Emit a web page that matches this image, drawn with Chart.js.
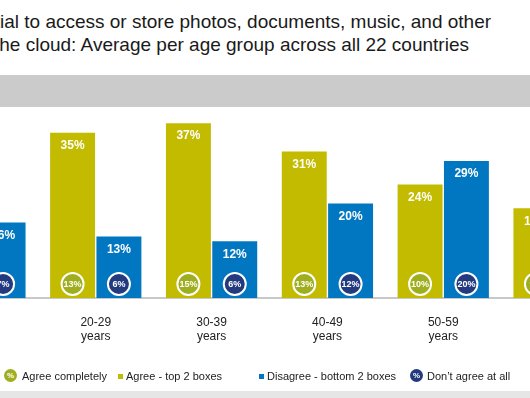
<!DOCTYPE html>
<html>
<head>
<meta charset="utf-8">
<script src="https://cdn.jsdelivr.net/npm/chart.js@4.4.1/dist/chart.umd.min.js"></script>
<style>
  html, body { margin: 0; padding: 0; }
  body { width: 530px; height: 398px; overflow: hidden; position: relative; background: #fff;
         font-family: Arial, "Liberation Sans", sans-serif; }
  .title { position: absolute; white-space: nowrap; font-size: 19px; line-height: 22.5px; color: #1a1a1a; }
  .band { position: absolute; left: 0; width: 530px; }
  #wrap { position: absolute; left: -78px; top: 0; width: 695px; height: 398px; }
  .legend { position: absolute; top: 368px; font-size: 11px; line-height: 16px; color: #222; white-space: nowrap; }
  .dot { position: absolute; width: 13px; height: 13px; border-radius: 50%; color: #fff;
         font-size: 8px; font-weight: bold; line-height: 13px; text-align: center; top: 369px; }
  .sq { position: absolute; width: 5px; height: 5px; top: 374px; }
</style>
</head>
<body>
<div class="title" style="left:-56px; top:11px;">essential to access or store photos, documents, music, and other</div>
<div class="title" style="left:-6px; top:33.5px;">the cloud: Average per age group across all 22 countries</div>
<div class="band" style="top:75px; height:32px; background:#cbcbcb;"></div>
<div class="band" style="top:391px; height:7px; background:#e6e6e6;"></div>

<div id="wrap"><canvas id="chart" width="695" height="398"></canvas></div>

<span class="dot" style="left:4px; background:#9fae1e;">%</span>
<span class="legend" style="left:22px;">Agree completely</span>
<span class="sq" style="left:118px; background:#c3bb00;"></span>
<span class="legend" style="left:126px;">Agree - top 2 boxes</span>
<span class="sq" style="left:259px; background:#0077c0;"></span>
<span class="legend" style="left:267px;">Disagree - bottom 2 boxes</span>
<span class="dot" style="left:410px; background:#233b7e;">%</span>
<span class="legend" style="left:427px;">Don’t agree at all</span>

<script>
// age groups (first and last are only partly in view)
const ageGroups = [["16-19", "years"], ["20-29", "years"], ["30-39", "years"], ["40-49", "years"], ["50-59", "years"], ["60+", "years"]];
const agreeTop2 = [null, 35, 37, 31, 24, 19];
const disagreeBottom2 = [16, 13, 12, 20, 29, null];
const agreeCompletely = [null, 13, 15, 13, 10, 9];
const dontAgreeAtAll = [7, 6, 6, 12, 20, null];

const OLIVE = "#c3bb00";
const BLUE = "#0077c0";
const OLIVE_DOT = "#9fae1e";
const NAVY_DOT = "#233b7e";

// valores y circulos dentro de las barras
const barLabels = {
  id: "barLabels",
  afterDatasetsDraw(chart) {
    const ctx = chart.ctx;
    const base = chart.scales.y.getPixelForValue(0);
    chart.data.datasets.forEach((ds, i) => {
      const meta = chart.getDatasetMeta(i);
      const circles = i === 0 ? agreeCompletely : dontAgreeAtAll;
      const dotColor = i === 0 ? OLIVE_DOT : NAVY_DOT;
      meta.data.forEach((bar, j) => {
        ctx.save();
        ctx.textAlign = "center";
        ctx.textBaseline = "middle";
        ctx.fillStyle = "#fff";
        if (ds.data[j] != null) {
          ctx.font = "bold 12px Arial";
          ctx.fillText(ds.data[j] + "%", bar.x, bar.y + 13);
        }
        if (circles[j] != null) {
          const cy = base - 14;
          ctx.beginPath();
          ctx.arc(bar.x, cy, 11, 0, Math.PI * 2);
          ctx.fillStyle = dotColor;
          ctx.fill();
          ctx.lineWidth = 2;
          ctx.strokeStyle = "#fff";
          ctx.stroke();
          ctx.fillStyle = "#fff";
          ctx.font = "bold 9px Arial";
          ctx.fillText(circles[j] + "%", bar.x, cy + 0.5);
        }
        ctx.restore();
      });
    });
  }
};

const ctx = document.getElementById("chart").getContext("2d");
new Chart(ctx, {
  type: "bar",
  data: {
    labels: ageGroups,
    datasets: [
      { label: "Agree - top 2 boxes", data: agreeTop2, backgroundColor: OLIVE },
      { label: "Disagree - bottom 2 boxes", data: disagreeBottom2, backgroundColor: BLUE }
    ]
  },
  options: {
    responsive: false,
    animation: false,
    categoryPercentage: 0.8,
    barPercentage: 0.97,
    layout: { padding: { top: 109, left: 0, right: 0, bottom: 0 } },
    plugins: { legend: { display: false }, tooltip: { enabled: false } },
    scales: {
      x: {
        grid: { display: false, drawTicks: false },
        border: { display: true, color: "#c8c8c8", width: 2 },
        ticks: {
          color: "#222",
          font: { family: "Arial", size: 12, lineHeight: 14 / 12 },
          padding: 18,
          maxRotation: 0,
          autoSkip: false
        },
        afterFit: (scale) => { scale.height = 100; }
      },
      y: { display: false, min: 0, max: 40 }
    }
  },
  plugins: [barLabels]
});
</script>
</body>
</html>
